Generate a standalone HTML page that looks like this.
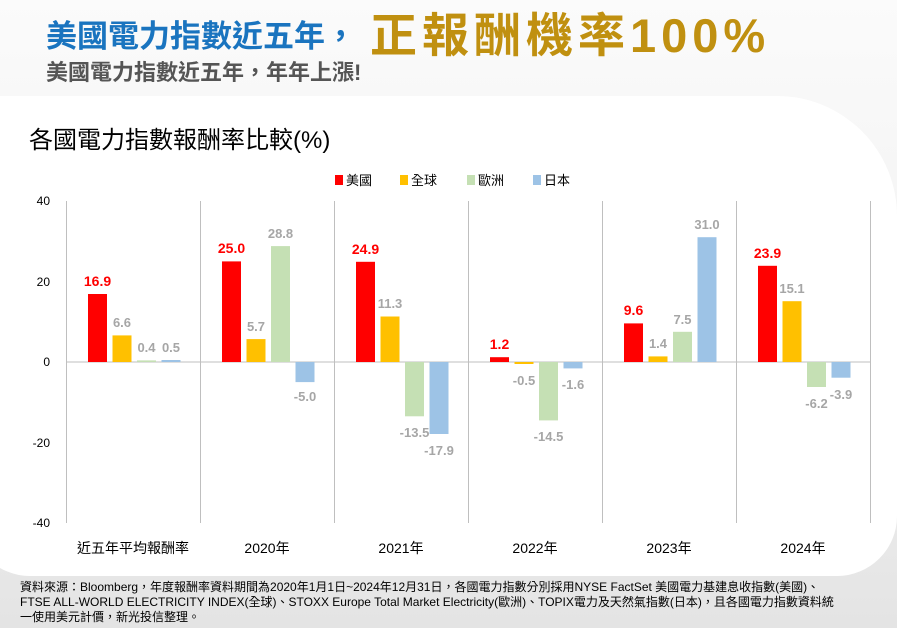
<!DOCTYPE html>
<html><head><meta charset="utf-8"><style>
html,body{margin:0;padding:0}
body{width:897px;height:628px;overflow:hidden;position:relative;background:linear-gradient(180deg,#fbfbfb 0%,#f0f0f0 60%,#e4e4e4 100%);font-family:"Liberation Sans","Noto Sans CJK TC",sans-serif}
.panel{position:absolute;left:-30px;top:96px;width:927px;height:480px;background:#fff;border-radius:30px 120px 60px 60px}
.t1{position:absolute;left:46px;top:14px;height:46px;line-height:46px;font-size:31px;font-weight:bold;color:#1a74bf;white-space:nowrap}
.t1 span{color:#c09010;font-size:47px;letter-spacing:5px;margin-left:14px;vertical-align:top;line-height:44px}
.t2{position:absolute;left:46px;top:61px;line-height:24px;font-size:22px;font-weight:bold;color:#555;white-space:nowrap}
.t3{position:absolute;left:29px;top:126px;line-height:30px;font-size:24px;color:#000;white-space:nowrap}
.foot{position:absolute;left:20px;top:580px;font-size:12px;line-height:15px;color:#000;white-space:nowrap}
svg{position:absolute;left:0;top:0}
</style></head><body>
<div class="panel"></div>
<div class="t1">美國電力指數近五年，<span>正報酬機率100%</span></div>
<div class="t2">美國電力指數近五年，年年上漲!</div>
<div class="t3">各國電力指數報酬率比較(%)</div>
<svg width="897" height="628" font-family="Liberation Sans, Noto Sans CJK TC, sans-serif">
<g font-size="13" fill="#000">
<rect x="335" y="175" width="8" height="10" fill="#ff0000"/><text x="346" y="185">美國</text>
<rect x="400" y="175" width="8" height="10" fill="#ffc000"/><text x="411" y="185">全球</text>
<rect x="467" y="175" width="8" height="10" fill="#c5e0b4"/><text x="478" y="185">歐洲</text>
<rect x="533" y="175" width="8" height="10" fill="#9dc3e6"/><text x="544" y="185">日本</text>
</g>
<g font-size="12" fill="#000" text-anchor="end">
<text x="50" y="205">40</text><text x="50" y="286">20</text><text x="50" y="366">0</text><text x="50" y="447">-20</text><text x="50" y="527">-40</text>
</g>
<g stroke="#bfbfbf" stroke-width="1">
<line x1="66" y1="362" x2="870" y2="362"/>
<line x1="66.5" y1="201" x2="66.5" y2="523"/><line x1="200.5" y1="201" x2="200.5" y2="523"/><line x1="334.5" y1="201" x2="334.5" y2="523"/><line x1="468.5" y1="201" x2="468.5" y2="523"/><line x1="602.5" y1="201" x2="602.5" y2="523"/><line x1="736.5" y1="201" x2="736.5" y2="523"/><line x1="870.5" y1="201" x2="870.5" y2="523"/>
</g>
<g>
<rect x="88" y="294" width="19" height="68" fill="#ff0000"/>
<rect x="112.5" y="335.4" width="19" height="26.6" fill="#ffc000"/>
<rect x="137" y="360.4" width="19" height="1.6" fill="#c5e0b4"/>
<rect x="161.5" y="360" width="19" height="2" fill="#9dc3e6"/>
<rect x="222" y="261.4" width="19" height="100.6" fill="#ff0000"/>
<rect x="246.5" y="339.1" width="19" height="22.9" fill="#ffc000"/>
<rect x="271" y="246.1" width="19" height="115.9" fill="#c5e0b4"/>
<rect x="295.5" y="362" width="19" height="20.1" fill="#9dc3e6"/>
<rect x="356" y="261.8" width="19" height="100.2" fill="#ff0000"/>
<rect x="380.5" y="316.5" width="19" height="45.5" fill="#ffc000"/>
<rect x="405" y="362" width="19" height="54.3" fill="#c5e0b4"/>
<rect x="429.5" y="362" width="19" height="72" fill="#9dc3e6"/>
<rect x="490" y="357.2" width="19" height="4.8" fill="#ff0000"/>
<rect x="514.5" y="362" width="19" height="2" fill="#ffc000"/>
<rect x="539" y="362" width="19" height="58.4" fill="#c5e0b4"/>
<rect x="563.5" y="362" width="19" height="6.4" fill="#9dc3e6"/>
<rect x="624" y="323.4" width="19" height="38.6" fill="#ff0000"/>
<rect x="648.5" y="356.4" width="19" height="5.6" fill="#ffc000"/>
<rect x="673" y="331.8" width="19" height="30.2" fill="#c5e0b4"/>
<rect x="697.5" y="237.2" width="19" height="124.8" fill="#9dc3e6"/>
<rect x="758" y="265.8" width="19" height="96.2" fill="#ff0000"/>
<rect x="782.5" y="301.2" width="19" height="60.8" fill="#ffc000"/>
<rect x="807" y="362" width="19" height="25" fill="#c5e0b4"/>
<rect x="831.5" y="362" width="19" height="15.7" fill="#9dc3e6"/>
</g>
<g font-size="14" font-weight="bold" fill="#ff0000" text-anchor="middle">
<text x="97.5" y="286">16.9</text><text x="231.5" y="253">25.0</text><text x="365.5" y="254">24.9</text><text x="499.5" y="349">1.2</text><text x="633.5" y="315">9.6</text><text x="767.5" y="258">23.9</text>
</g>
<g font-size="13" font-weight="bold" fill="#a6a6a6" text-anchor="middle">
<text x="122" y="327">6.6</text><text x="146.5" y="352">0.4</text><text x="171" y="352">0.5</text>
<text x="256" y="331">5.7</text><text x="280.5" y="238">28.8</text><text x="305" y="401">-5.0</text>
<text x="390" y="308">11.3</text><text x="414.5" y="437">-13.5</text><text x="439" y="455">-17.9</text>
<text x="524" y="385">-0.5</text><text x="548.5" y="441">-14.5</text><text x="573" y="389">-1.6</text>
<text x="658" y="348">1.4</text><text x="682.5" y="324">7.5</text><text x="707" y="229">31.0</text>
<text x="792" y="293">15.1</text><text x="816.5" y="408">-6.2</text><text x="841" y="399">-3.9</text>
</g>
<g font-size="14" fill="#000" text-anchor="middle">
<text x="133" y="553">近五年平均報酬率</text><text x="267" y="553">2020年</text><text x="401" y="553">2021年</text><text x="535" y="553">2022年</text><text x="669" y="553">2023年</text><text x="803" y="553">2024年</text>
</g>
</svg>
<div class="foot">資料來源：Bloomberg，年度報酬率資料期間為2020年1月1日~2024年12月31日，各國電力指數分別採用NYSE FactSet 美國電力基建息收指數(美國)、<br>FTSE ALL-WORLD ELECTRICITY INDEX(全球)、STOXX Europe Total Market Electricity(歐洲)、TOPIX電力及天然氣指數(日本)，且各國電力指數資料統<br>一使用美元計價，新光投信整理。</div>
</body></html>
